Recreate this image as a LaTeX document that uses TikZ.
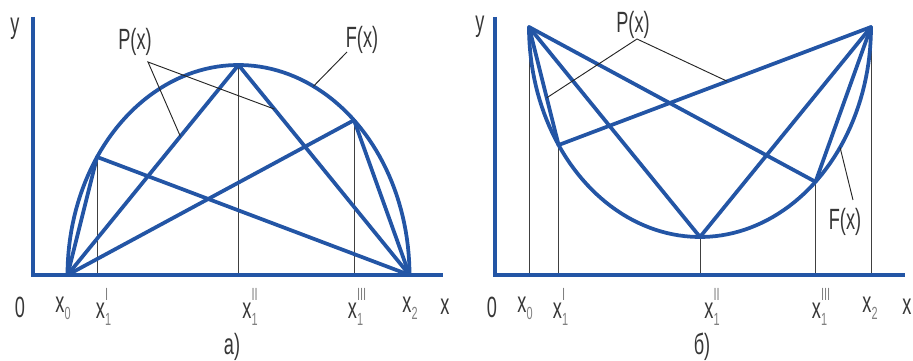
\documentclass[tikz,border=0pt]{standalone}
\usepackage{fontspec}
\setmainfont{Liberation Sans}[FakeStretch=0.62]
\usetikzlibrary{calc}

\definecolor{curveblue}{RGB}{35,85,165}
\definecolor{lblgray}{RGB}{55,55,55}
\newcommand{\idxfont}{\fontsize{15}{15}\selectfont}
\newcommand{\xlab}[2]{x\rlap{\raisebox{-0.45ex}{\idxfont\color{black!50}#1}}\raisebox{1.2ex}{\idxfont\color{black!50}#2}}

\begin{document}
\begin{tikzpicture}[
		x=0.03cm, y=0.03cm,
		font=\fontsize{25}{30}\selectfont,
		axis/.style={line width=3.2pt, curveblue},
		fline/.style={line width=3.2pt, curveblue},
		pline/.style={line width=3.2pt, curveblue, line cap=round},
		ordinate/.style={line width=0.8pt, black!75},
		leader/.style={line width=0.8pt, black!85},
		lbl/.style={text=lblgray, inner sep=1pt}
		]
		\useasboundingbox (0,0) rectangle (913,361);
		
		% a) arc over the axis
		\coordinate (ca) at (238.5,86);
		\coordinate (a0) at (67.5,86);
		\coordinate (a4) at (409.5,86);
		\coordinate (a1) at ($(ca)+({171*cos(145.8)},{210*sin(145.8)})$);
		\coordinate (a2) at ($(ca)+(0,210)$);
		\coordinate (a3) at ($(ca)+({171*cos(47.5)},{210*sin(47.5)})$);
		\coordinate (af) at ($(ca)+({171*cos(64)},{210*sin(64)})$);
		\coordinate (oa) at (33,86);
		\coordinate (ya) at (33,344);
		\coordinate (xa) at (443,86);
		
		\foreach \t in {a1,a2,a3}
		\draw[ordinate] (\t) -- (\t |- oa);
		\draw[fline] plot[domain=180:0, samples=90] ({238.5+171*cos(\x)},{86+210*sin(\x)});
		\foreach \s in {a0,a4}
		\foreach \t in {a1,a2,a3}
		\draw[pline] (\s) -- (\t);
		\draw[axis] (ya) -- (oa) -- (xa);
		
		\node[lbl] (ya-l) at (15,332) {y};
		\node[lbl] (pa) at (135,319) {P(x)};
		\node[lbl] (fa) at (362,321) {F(x)};
		\coordinate (pa-tip) at (148,299);
		\coordinate (fa-tip) at (347,309);
		\draw[leader] ($(a0)!0.66!(a2)$) -- (pa-tip) -- ($(a2)!0.21!(a4)$);
		\draw[leader] (fa-tip) -- (af);
		
		\node[lbl] (a-o)  at (20,54)  {0};
		\node[lbl] (a-x0) at (60,54)  {\xlab{0}{}};
		\node[lbl] (a-x1) at (102,54) {\xlab{1}{I}};
		\node[lbl] (a-x2) at (250,54) {\xlab{1}{II}};
		\node[lbl] (a-x3) at (357,54) {\xlab{1}{III}};
		\node[lbl] (a-x4) at (407,54) {\xlab{2}{}};
		\node[lbl] (a-x)  at (445,54) {x};
		\node[lbl] (a-cap) at (232,14) {а)};
		
		% b) trough under the top points
		\coordinate (cb) at (700,334);
		\coordinate (b0) at (529,334);
		\coordinate (b4) at (871,334);
		\coordinate (b1) at ($(cb)+({171*cos(214.2)},{210*sin(214.2)})$);
		\coordinate (b2) at ($(cb)+(0,-210)$);
		\coordinate (b3) at ($(cb)+({171*cos(312.5)},{210*sin(312.5)})$);
		\coordinate (bf) at ($(cb)+({171*cos(325)},{210*sin(325)})$);
		\coordinate (ob) at (495,86);
		\coordinate (yb) at (495,344);
		\coordinate (xb) at (905,86);
		
		\foreach \t in {b0,b1,b2,b3,b4}
		\draw[ordinate] (\t) -- (\t |- ob);
		\draw[fline] plot[domain=180:360, samples=90] ({700+171*cos(\x)},{334+210*sin(\x)});
		\foreach \s in {b0,b4}
		\foreach \t in {b1,b2,b3}
		\draw[pline] (\s) -- (\t);
		\draw[axis] (yb) -- (ob) -- (xb);
		
		\node[lbl] (yb-l) at (480,334) {y};
		\node[lbl] (pb) at (633,336) {P(x)};
		\node[lbl] (fb) at (845,139) {F(x)};
		\coordinate (pb-tip) at (637,322);
		\coordinate (fb-tip) at (853,161);
		\draw[leader] ($(b0)!0.6!(b1)$) -- (pb-tip) -- ($(b1)!0.54!(b4)$);
		\draw[leader] (fb-tip) -- (bf);
		
		\node[lbl] (b-o)  at (492,54) {0};
		\node[lbl] (b-x0) at (522,54) {\xlab{0}{}};
		\node[lbl] (b-x1) at (559,54) {\xlab{1}{I}};
		\node[lbl] (b-x2) at (712,54) {\xlab{1}{II}};
		\node[lbl] (b-x3) at (821,54) {\xlab{1}{III}};
		\node[lbl] (b-x4) at (867,54) {\xlab{2}{}};
		\node[lbl] (b-x)  at (907,54) {x};
		\node[lbl] (b-cap) at (702,14) {б)};
\end{tikzpicture}
\end{document}
